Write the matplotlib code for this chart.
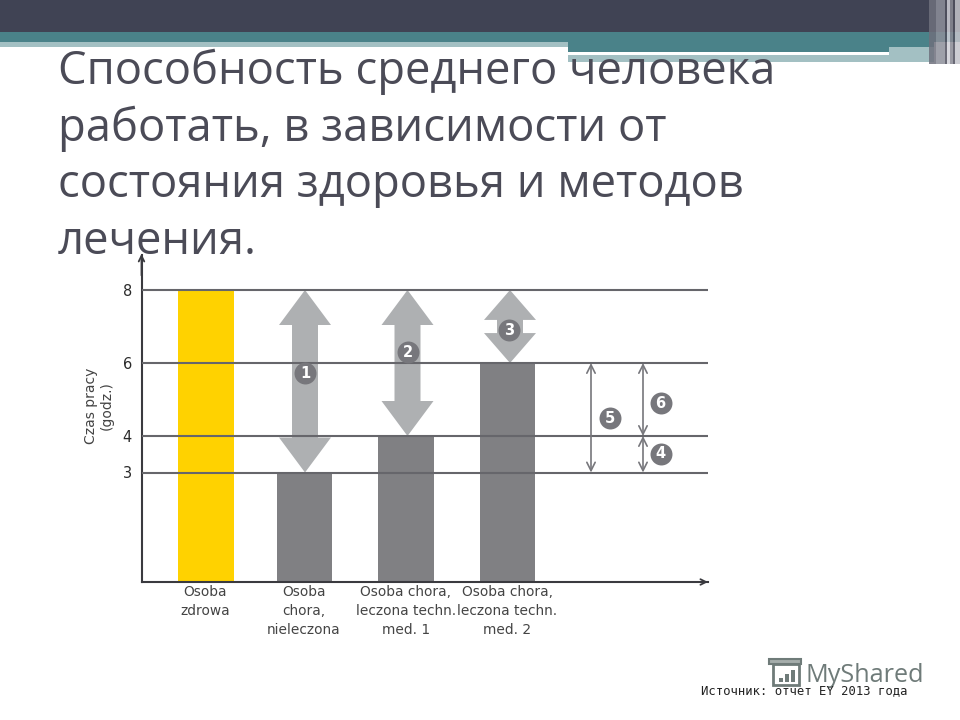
import matplotlib
matplotlib.use('Agg')
import matplotlib.pyplot as plt
from matplotlib.patches import Polygon, Rectangle

# dane z wykresu
kategorie = ['Osoba\nzdrowa', 'Osoba\nchora,\nnieleczona',
             'Osoba chora,\nleczona techn.\nmed. 1', 'Osoba chora,\nleczona techn.\nmed. 2']
wartosci = [8, 3, 4, 6]
kolory = ['#FFD200', '#808083', '#808083', '#808083']
y_ticks = [3, 4, 6, 8]
tytul = ['Способность среднего человека', 'работать, в зависимости от',
         'состояния здоровья и методов', 'лечения.']
zrodlo = 'Источник: отчет EY 2013 года'
# numer, wartosc dolna, wartosc gorna
zakresy = [('5', 3, 6), ('6', 4, 6), ('4', 3, 4)]

SZARY_LINIA = '#66666b'
SZARY_STRZALKA = '#aeb0b2'
SZARY_KOLKO = '#77777c'

fig = plt.figure(figsize=(9.6, 7.2), dpi=100, facecolor='white')

# tlo slajdu, wspolrzedne w pikselach
bg = fig.add_axes([0, 0, 1, 1], zorder=0)
bg.set_xlim(0, 960)
bg.set_ylim(720, 0)
bg.axis('off')
bg.add_patch(Rectangle((0, 0), 960, 32, color='#404354', lw=0, zorder=1))
bg.add_patch(Rectangle((0, 32), 960, 10, color='#4a8289', lw=0, zorder=1))
bg.add_patch(Rectangle((0, 42), 568, 5, color='#a3c0c3', lw=0, zorder=1))
bg.add_patch(Rectangle((568, 42), 366, 10, color='#4a8289', lw=0, zorder=1))
bg.add_patch(Rectangle((568, 52), 366, 10, color='#a3c0c3', lw=0, zorder=1))
bg.add_patch(Rectangle((889, 47), 45, 5, color='#a3c0c3', lw=0, zorder=1))
bg.add_patch(Rectangle((568, 52), 321, 3, color='white', lw=0, zorder=1))
for x, w, c in [(929, 7, '#6e707d'), (936, 9, '#8d8f9a'), (945, 2, '#50505e'),
                (947, 3, '#d0d0d8'), (950, 3, '#8a8a94'), (953, 2, '#50505e'),
                (955, 5, '#c5c5cc')]:
    bg.add_patch(Rectangle((x, 0), w, 64, color=c, lw=0, alpha=0.85, zorder=1))

for i, linia in enumerate(tytul):
    bg.text(58, 84 + i * 56.7, linia, fontsize=32.7, color='#4b4b57',
            family='Open Sans', ha='left', va='baseline', zorder=2)
bg.add_patch(Rectangle((0, 255), 960, 465, color='white', lw=0, zorder=3))

# logo w rogu
bg.text(805, 682, 'MyShared', fontsize=18.2, color='#6f7b79', family='Open Sans',
        ha='left', va='baseline', zorder=4)
bg.add_patch(Rectangle((773, 664), 26, 21, fc='white', ec='#6f7b79', lw=2, zorder=4))
bg.add_patch(Rectangle((769, 659), 32, 5, fc='#a5adab', ec='#6f7b79', lw=1.5, zorder=4))
for x, h in [(779, 4), (785, 8), (791, 12)]:
    bg.add_patch(Rectangle((x, 682 - h), 4, h, color='#6f7b79', lw=0, zorder=4))
bg.text(701, 694, zrodlo, fontsize=8.85, color='#222222', family='DejaVu Sans Mono',
        ha='left', va='baseline', zorder=5)

# wykres: os x w pikselach slajdu, os y w godzinach
ax = fig.add_axes([141.5 / 960, 138 / 720, (708 - 141.5) / 960, 327 / 720], zorder=1)
ax.patch.set_alpha(0)
ax.set_xlim(141.5, 708)
ax.set_ylim(0, 327 / 36.5)

pozycje = [205.5, 304, 406, 507.5]
szer = [56, 55, 56, 55]
ax.bar(pozycje, wartosci, width=szer, color=kolory, zorder=1)

ax.set_yticks(y_ticks)
ax.set_yticklabels([str(v) for v in y_ticks], fontsize=10.5, color='#2a2a2a')
ax.set_xticks(pozycje)
ax.set_xticklabels(kategorie, fontsize=9.9, color='#444444', linespacing=1.46)
ax.tick_params(axis='both', length=0)
ax.tick_params(axis='y', pad=7)
ax.tick_params(axis='x', pad=2)
ax.grid(axis='y', color=SZARY_LINIA, lw=1.5, zorder=3)
ax.set_axisbelow(False)
for s in ['top', 'right']:
    ax.spines[s].set_visible(False)
for s in ['left', 'bottom']:
    ax.spines[s].set_color('#3a3a3f')
    ax.spines[s].set_linewidth(1.5)

fig.text(99 / 960, 1 - 406 / 720, 'Czas pracy\n(godz.)', rotation=90, fontsize=10,
         color='#444444', ha='center', va='center', linespacing=1.15)

# groty osi
ax.annotate('', xy=(141.5, 327 / 36.5 + 0.03), xytext=(141.5, 8.4), annotation_clip=False,
            arrowprops=dict(arrowstyle='->', color='#3a3a3f', lw=1.3, shrinkA=0, shrinkB=0))
ax.annotate('', xy=(708, 0), xytext=(680, 0), annotation_clip=False,
            arrowprops=dict(arrowstyle='->', color='#3a3a3f', lw=1.3, shrinkA=0, shrinkB=0))


def strzalka(x, dol, gora, zorder=2):
    # gruba dwustronna strzalka miedzy wartosciami dol i gora
    pol = 26
    ramie = 13
    grot = min(35 / 36.5, (gora - dol) * 0.41)
    punkty = [(x, gora), (x + pol, gora - grot), (x + ramie, gora - grot),
              (x + ramie, dol + grot), (x + pol, dol + grot), (x, dol),
              (x - pol, dol + grot), (x - ramie, dol + grot),
              (x - ramie, gora - grot), (x - pol, gora - grot)]
    ax.add_patch(Polygon(punkty, closed=True, fc=SZARY_STRZALKA, ec='none', zorder=zorder))


def kolko(x, y, napis):
    ax.scatter([x], [y], s=250, color=SZARY_KOLKO, lw=0, zorder=5, clip_on=False)
    ax.text(x, y - 0.01, napis, color='white', fontsize=10.5, fontweight='bold',
            ha='center', va='center', zorder=6)


strzalka(305, wartosci[1], wartosci[0])
strzalka(407.5, wartosci[2], wartosci[0])
strzalka(510, wartosci[3], wartosci[0])
kolko(305, 5.73, '1')
kolko(407.5, 6.31, '2')
kolko(509, 6.90, '3')

# zakresy po prawej
x_zakres = {'5': 591, '6': 643, '4': 643}
kolka = {'5': (610, 4.50), '6': (660.5, 4.91), '4': (660.5, 3.52)}
for nr, dol, gora in zakresy:
    ax.annotate('', xy=(x_zakres[nr], gora), xytext=(x_zakres[nr], dol),
                arrowprops=dict(arrowstyle='<->,head_length=0.6,head_width=0.3',
                                color='#77777c', lw=1.2, shrinkA=0, shrinkB=0), zorder=4)
    kolko(kolka[nr][0], kolka[nr][1], nr)

fig.savefig('out.png', dpi=100)
plt.close(fig)
